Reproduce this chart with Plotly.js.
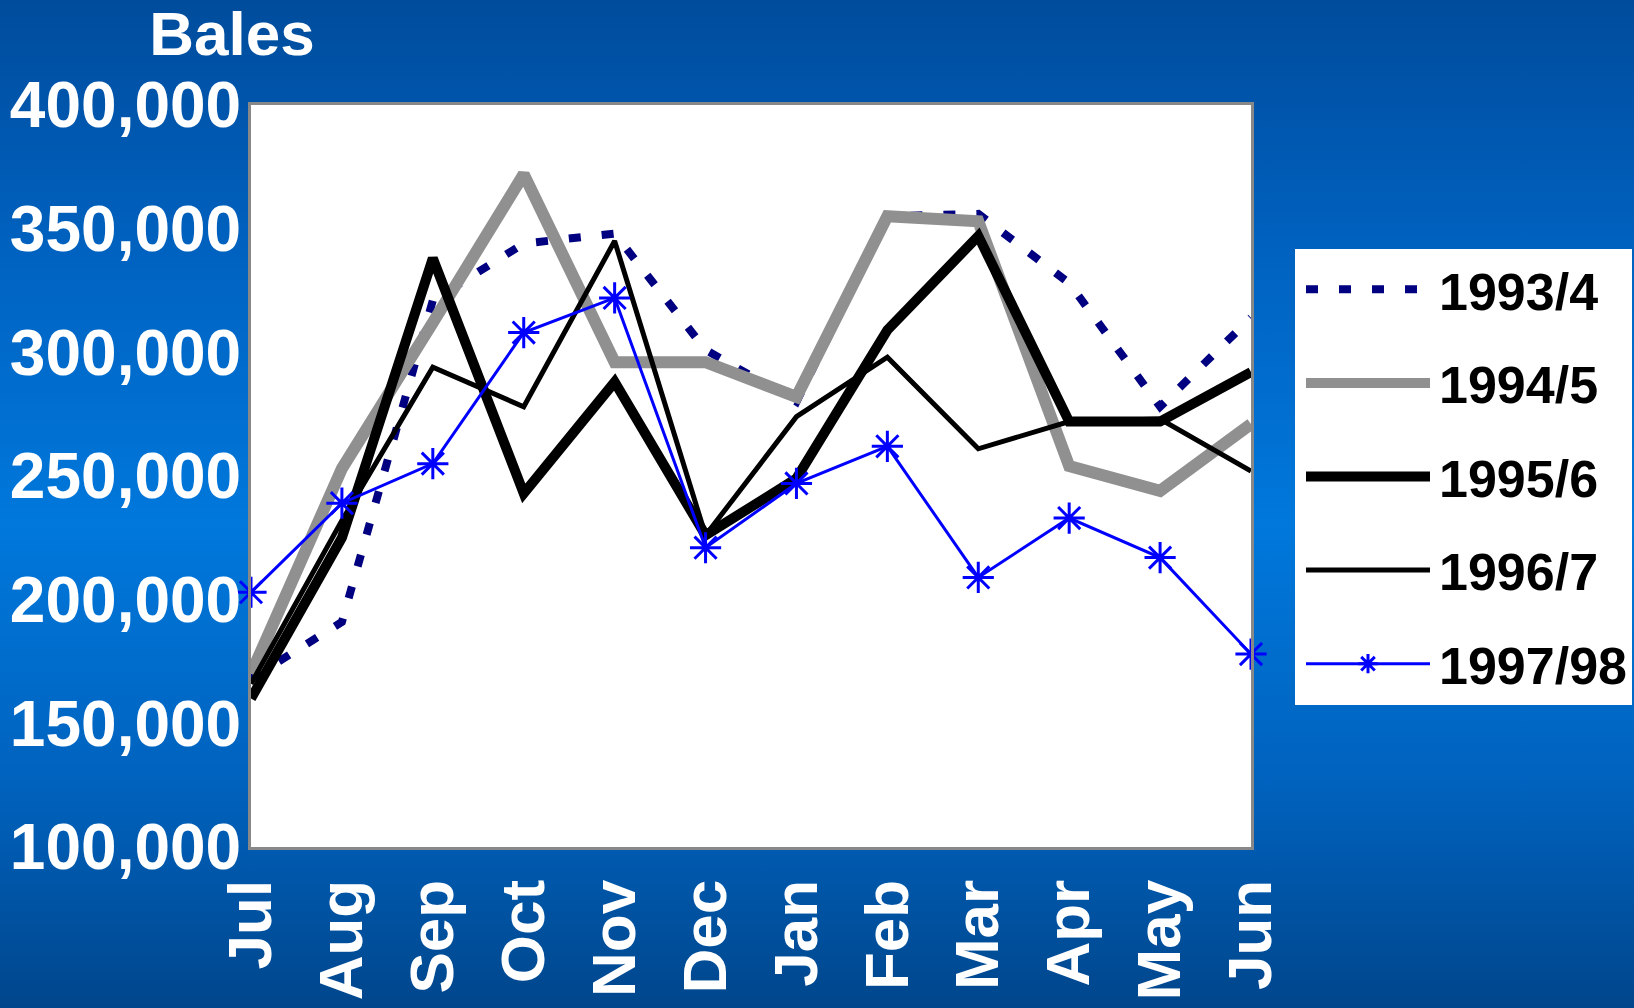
<!DOCTYPE html>
<html><head><meta charset="utf-8">
<script src="https://cdn.plot.ly/plotly-3.0.1.min.js"></script>
<style>
html,body{margin:0;padding:0;width:1634px;height:1008px;overflow:hidden;
background:linear-gradient(to bottom,#004c9c 0%,#0062c0 25%,#0078dc 52%,#0062bd 78%,#00468c 100%);}
#chart{width:1634px;height:1008px;}
</style></head><body><div id="chart"></div>
<script>
const months = ['Jul','Aug','Sep','Oct','Nov','Dec','Jan','Feb','Mar','Apr','May','Jun'];
const seriesNames = ['1993/4','1994/5','1995/6','1996/7','1997/98'];
const s1993 = [168000,191000,321000,344000,348000,301000,280000,355000,356000,328000,278000,314000];
const s1994 = [170000,253000,312000,372000,296000,296000,282000,355000,353000,254000,244000,271000];
const s1995 = [160000,225000,338000,243000,288000,226000,249000,309000,347000,272000,272000,292000];
const s1996 = [166000,232000,294000,278000,345000,226000,274000,298000,261000,272000,273000,252000];
const s1997 = [203000,239000,255000,308000,322000,221000,247000,262000,209000,233000,217000,178000];

const FONT = 'Liberation Sans, Arial, sans-serif';
const styles = [
  {line:{color:'#000080', width:8, dash:'12px,21px'}, mode:'lines'},
  {line:{color:'#909090', width:12}, mode:'lines'},
  {line:{color:'#000000', width:10}, mode:'lines'},
  {line:{color:'#000000', width:5}, mode:'lines'},
  {line:{color:'#0000ff', width:3}, mode:'lines+markers',
   marker:{symbol:'asterisk-open', size:26, color:'#0000ff', line:{color:'#0000ff', width:3}}}
];
const values = [s1993, s1994, s1995, s1996, s1997];
const data = seriesNames.map((n, i) => Object.assign({
  type:'scatter', x:months, y:values[i], name:n, legendgroup:n, cliponaxis:false
}, styles[i]));

const tickFont = {family:FONT, size:64, color:'#ffffff', weight:'bold'};
const layout = {
  width:1634, height:1008,
  paper_bgcolor:'rgba(0,0,0,0)', plot_bgcolor:'#ffffff',
  margin:{l:251, r:383, t:105, b:161, autoexpand:false},
  title:{text:'Bales', font:{family:FONT, size:62, color:'#ffffff', weight:'bold'},
         x:232/1634, xref:'container', xanchor:'center', y:1-33/1008, yref:'container', yanchor:'middle'},
  xaxis:{type:'category', range:[0,11], tickangle:-90,
         tickfont:{family:FONT, size:62, color:'#ffffff', weight:'bold'}, showgrid:false,
         showline:true, mirror:true, linecolor:'#888888', linewidth:3, ticks:'', ticklabelstandoff:5, zeroline:false},
  yaxis:{range:[100000,400000], dtick:50000, tickformat:',d', tickfont:tickFont, showgrid:false,
         showline:true, mirror:true, linecolor:'#888888', linewidth:3, ticks:'', ticklabelstandoff:-6, zeroline:false},
  showlegend:true,
  legend:{x:1.044, xanchor:'left', y:(847-249)/742, yanchor:'top', bgcolor:'#ffffff', borderwidth:0,
          font:{family:FONT, size:52, color:'#000000', weight:'bold'},
          itemwidth:134, tracegroupgap:23, traceorder:'grouped'}
};

Plotly.newPlot('chart', data, layout, {staticPlot:true}).then(gd => {
  gd.querySelectorAll('.legend .traces').forEach(tr => {
    tr.querySelectorAll('.legendlines path').forEach(p => p.setAttribute('d','M11,0h124'));
    tr.querySelectorAll('.legendpoints path.scatterpts').forEach(p => p.setAttribute('transform','translate(73,0)'));
  });
});
</script>
</body></html>
